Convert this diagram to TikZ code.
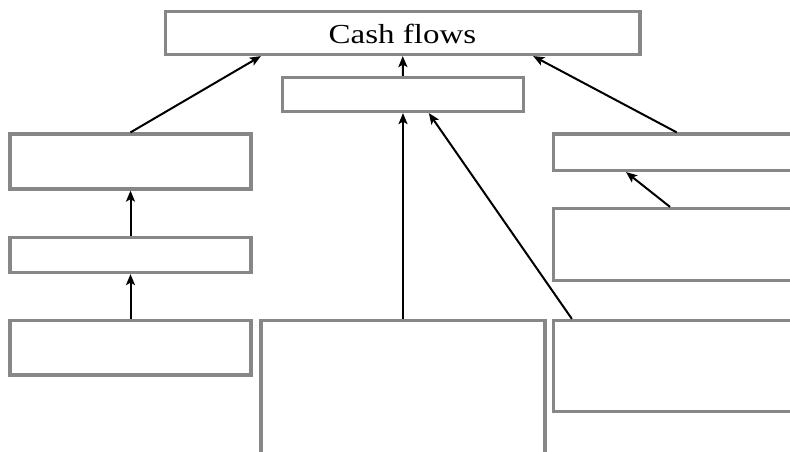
\documentclass[tikz,border=0pt]{standalone}
\usepackage{fontspec}
\setmainfont{Liberation Serif}
\usetikzlibrary{arrows.meta,calc}
\begin{document}
\begin{tikzpicture}[x=1pt,y=-1pt,
  box/.style={draw=black!47,line width=3.2pt,rectangle,inner sep=0pt},
  link/.style={line width=2pt,-{Stealth[length=11pt,width=9pt,inset=2.5pt]}}]
\useasboundingbox (0,0) rectangle (790,451);
\clip (0,0) rectangle (790,451);
% boxes
\node[box,minimum width=474.5pt,minimum height=43pt] (cf) at (402.75,33) {};
\node[font=\fontsize{27.5}{32}\selectfont,xscale=1.2] (title) at (402.5,34) {Cash flows};
\node[box,minimum width=241pt,minimum height=34pt] (mid) at (403,94.5) {};
\node[box,minimum width=241pt,minimum height=55pt] (l1) at (130.5,161.5) {};
\node[box,minimum width=241pt,minimum height=35pt] (l2) at (130.5,255) {};
\node[box,minimum width=241pt,minimum height=54.5pt] (l3) at (130.5,347.75) {};
\node[box,minimum width=284pt,minimum height=149.5pt] (c) at (403,395.25) {};
\node[box,minimum width=246.5pt,minimum height=36.5pt] (r1) at (676.75,152.25) {};
\node[box,minimum width=246.5pt,minimum height=72pt] (r2) at (676.75,244.5) {};
\node[box,minimum width=246.5pt,minimum height=91pt] (r3) at (676.75,366) {};
% connectors
\draw[link] (l1.north) -- ($(cf.south west)!0.203!(cf.south east)$);
\draw[link] (mid.north) -- (cf.south);
\draw[link] (r1.north) -- ($(cf.south west)!0.773!(cf.south east)$);
\draw[link] (l2.north) -- (l1.south);
\draw[link] (l3.north) -- (l2.south);
\draw[link] (c.north) -- (mid.south);
\draw[link] ($(r3.north west)!0.08!(r3.north east)$) -- ($(mid.south west)!0.606!(mid.south east)$);
\draw[link] ($(r2.north west)!0.473!(r2.north east)$) -- ($(r1.south west)!0.297!(r1.south east)$);
\end{tikzpicture}
\end{document}
